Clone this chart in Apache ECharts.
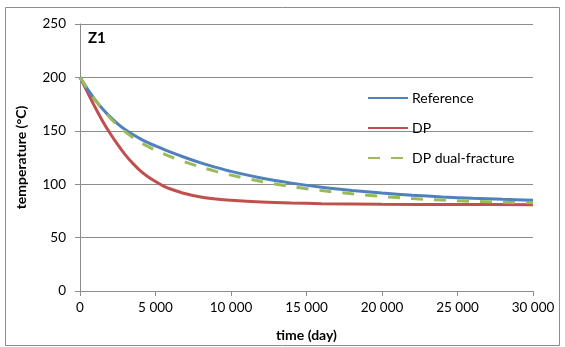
<!DOCTYPE html>
<html>
<head>
<meta charset="utf-8">
<script src="https://cdn.jsdelivr.net/npm/echarts@6/dist/echarts.min.js"></script>
<style>html,body{margin:0;padding:0;background:#fff}#c{width:565px;height:347px}</style>
</head>
<body>
<div id="c"></div>
<script>
var seriesNames = ['Reference', 'DP', 'DP dual-fracture'];
var refData = [[0,200],[500,189],[1000,179],[1500,170.5],[2000,163],[2500,156.5],[3000,151],[3500,146.5],[4000,142.5],[4500,139],[5000,135.8],[6000,130],[7000,124.8],[8000,120],[9000,115.8],[10000,112],[12000,105.8],[14000,101],[16000,97.2],[18000,94.2],[20000,91.7],[22000,89.7],[24000,88.1],[26000,86.8],[28000,85.8],[30000,85]];
var dpData = [[0,200],[500,186],[1000,172],[1500,159],[2000,147.5],[2500,137],[3000,127.5],[3500,119.5],[4000,112.5],[4500,107],[5000,102.5],[5500,98.5],[6000,95.5],[7000,91],[8000,88],[9000,86.2],[10000,85],[12000,83.4],[14000,82.4],[16000,81.8],[20000,81.2],[25000,81],[30000,80.8]];
var dualData = [[0,200],[500,189],[1000,179],[1500,170],[2000,162],[2500,155],[3000,149],[3500,143.8],[4000,139.3],[4500,135.3],[5000,131.8],[6000,125.8],[7000,120.6],[8000,116],[9000,112],[10000,108.5],[12000,102.5],[14000,97.8],[16000,94],[18000,91],[20000,88.5],[22000,86.6],[24000,85.1],[26000,84],[28000,83.2],[30000,82.7]];
var xTicks = [0, 30000, 5000];
var yTicks = [0, 250, 50];
var titleText = 'Z1';
var xName = 'time (day)';
var yName = 'temperature (°C)';

var font = 'Lato, "Noto Sans", sans-serif';
var chart = echarts.init(document.getElementById('c'), null, {renderer: 'canvas'});
function fmt(v){ return String(v).replace(/\B(?=(\d{3})+(?!\d))/g, ' '); }
chart.setOption({
  animation: false,
  backgroundColor: '#fff',
  graphic: [{type: 'rect', shape: {x: 5.5, y: 7.5, width: 554, height: 338}, style: {fill: 'none', stroke: '#8c8c8c', lineWidth: 1}, z: -1}],
  title: {text: titleText, left: 83, top: 26, textStyle: {fontFamily: font, fontSize: 15, fontWeight: 'bold', color: '#000'}},
  grid: {left: 80, right: 32, top: 24, bottom: 56},
  legend: {
    orient: 'vertical', left: 367, top: 91, padding: 0, itemWidth: 40, itemHeight: 12, itemGap: 16,
    data: seriesNames,
    itemStyle: {opacity: 0},
    textStyle: {fontFamily: font, fontSize: 14, color: '#000', padding: [0,0,0,-1]}
  },
  xAxis: {
    type: 'value', min: xTicks[0], max: xTicks[1], interval: xTicks[2],
    name: xName, nameLocation: 'middle', nameGap: 37,
    nameTextStyle: {fontFamily: font, fontSize: 14, fontWeight: 'bold', color: '#000'},
    axisLine: {lineStyle: {color: '#8c8c8c'}},
    axisTick: {show: true, length: 5, lineStyle: {color: '#8c8c8c'}},
    axisLabel: {fontFamily: font, fontSize: 13.5, color: '#000', margin: 10, formatter: fmt},
    splitLine: {show: false}
  },
  yAxis: {
    type: 'value', min: yTicks[0], max: yTicks[1], interval: yTicks[2],
    name: yName, nameLocation: 'middle', nameGap: 52, nameRotate: 90,
    nameTextStyle: {fontFamily: font, fontSize: 14, fontWeight: 'bold', color: '#000'},
    axisLine: {show: true, lineStyle: {color: '#8c8c8c'}},
    axisTick: {show: true, length: 5, lineStyle: {color: '#8c8c8c'}},
    axisLabel: {fontFamily: font, fontSize: 13.5, color: '#000', margin: 14},
    splitLine: {show: true, lineStyle: {color: '#8c8c8c', width: 1}}
  },
  series: [
    {name: seriesNames[0], type: 'line', data: refData, smooth: 0.3, showSymbol: false, symbol: 'none', color: '#4f81bd', lineStyle: {width: 3, color: '#4f81bd'}, z: 3},
    {name: seriesNames[1], type: 'line', data: dpData, smooth: 0.3, showSymbol: false, symbol: 'none', color: '#c0504d', lineStyle: {width: 3, color: '#c0504d'}, z: 2},
    {name: seriesNames[2], type: 'line', data: dualData, smooth: 0.3, showSymbol: false, symbol: 'none', color: '#9bbb59', lineStyle: {width: 3, color: '#9bbb59', type: [12, 11]}, z: 4}
  ]
});
</script>
</body>
</html>
